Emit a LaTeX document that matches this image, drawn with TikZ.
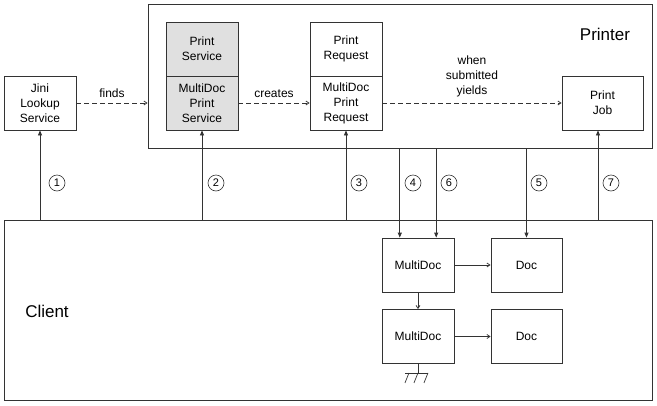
\documentclass[tikz,border=0pt]{standalone}
\usepackage{fontspec}
\setmainfont{Liberation Sans}
\usetikzlibrary{arrows.meta,calc}

\tikzset{
  unit/.style={draw=black!80, line width=0.8pt, minimum width=72pt, minimum height=54pt,
    inner sep=0pt, align=center, font=\fontsize{12}{15}\selectfont},
  shaded/.style={unit, fill=black!12},
  frame/.style={draw=black!80, line width=0.8pt, inner sep=0pt},
  title/.style={font=\fontsize{17}{20}\selectfont},
  step num/.style={draw=black!80, line width=0.6pt, circle, minimum size=16pt, inner sep=0pt,
    font=\fontsize{11}{12}\selectfont},
  call/.style={draw=black!80, line width=0.8pt, -{Triangle[length=5pt,width=4pt]}},
  uses/.style={draw=black!80, line width=0.8pt, dashed, dash pattern=on 5pt off 3pt,
    -{Straight Barb[length=3pt,width=4pt]}},
  link/.style={draw=black!80, line width=0.8pt, -{Straight Barb[length=3pt,width=4pt]}},
  note/.style={align=center, font=\fontsize{12}{15}\selectfont}
}

\begin{document}
\begin{tikzpicture}[x=1pt,y=-1pt]
\useasboundingbox (0,0) rectangle (657,405);

% the two large boxes
\node [frame, minimum width=504pt, minimum height=144pt] (printer) at (400,76) {};
\node [frame, minimum width=648pt, minimum height=180pt] (client) at (328,310) {};
\node [title] (printerlabel) at (605,34) {Printer};
\node [title] (clientlabel) at (47,311) {Client};

% printer side
\node [unit] (jini) at (40,103) {Jini\\Lookup\\Service};
\node [shaded] (service) at (202,49) {Print\\Service};
\node [shaded] (mdservice) at (202,103) {MultiDoc\\Print\\Service};
\node [unit] (request) at (346,49) {Print\\Request};
\node [unit] (mdrequest) at (346,103) {MultiDoc\\Print\\Request};
\node [unit, minimum width=81pt] (job) at (602.5,103) {Print\\Job};

% client side
\node [unit] (md1) at (418,265) {MultiDoc};
\node [unit, minimum width=71pt] (doc1) at (526.5,265) {Doc};
\node [unit] (md2) at (418,336.5) {MultiDoc};
\node [unit, minimum width=71pt] (doc2) at (526.5,336.5) {Doc};

% dashed relations
\draw [uses] (jini.east) -- (jini.east -| printer.west)
  node [note, midway, above=2pt] (finds) {finds};
\draw [uses] (mdservice) -- (mdrequest)
  node [note, midway, above=2pt] (creates) {creates};
\draw [uses] (mdrequest) -- (job)
  node [note, midway, above=2pt] (yields) {when\\submitted\\yields};

% calls from the client
\coordinate (in4) at ($(md1.north west)!0.25!(md1.north east)$);
\coordinate (in6) at ($(md1.north west)!0.75!(md1.north east)$);
\coordinate (jobin) at ([xshift=-4.5pt]job.south);
\draw [call] (client.north -| jini.south) -- (jini.south);
\draw [call] (client.north -| mdservice.south) -- (mdservice.south);
\draw [call] (client.north -| mdrequest.south) -- (mdrequest.south);
\draw [call] (printer.south -| in4) -- (in4);
\draw [call] (printer.south -| in6) -- (in6);
\draw [call] (printer.south -| doc1.north) -- (doc1.north);
\draw [call] (client.north -| jobin) -- (jobin);

\node [step num] (s1) at (57,183) {1};
\node [step num] (s2) at (216,183) {2};
\node [step num] (s3) at (359,183) {3};
\node [step num] (s4) at (413,183) {4};
\node [step num] (s6) at (449,183) {6};
\node [step num] (s5) at (539,183) {5};
\node [step num] (s7) at (611,183) {7};

% document chain
\draw [link] (md1) -- (doc1);
\draw [link] (md2) -- (doc2);
\draw [link] (md1) -- (md2);

% end of the chain
\coordinate (gnd) at ([yshift=-9pt]md2.south);
\draw [draw=black!80, line width=0.8pt] (md2.south) -- (gnd);
\draw [draw=black!80, line width=0.8pt] ([xshift=-13pt]gnd) -- ([xshift=10pt]gnd);
\foreach \dx in {-9,0,10}
  \draw [draw=black!80, line width=0.7pt] ([xshift=\dx pt]gnd) -- ([xshift=\dx pt-4pt,yshift=-10pt]gnd);
\end{tikzpicture}
\end{document}
